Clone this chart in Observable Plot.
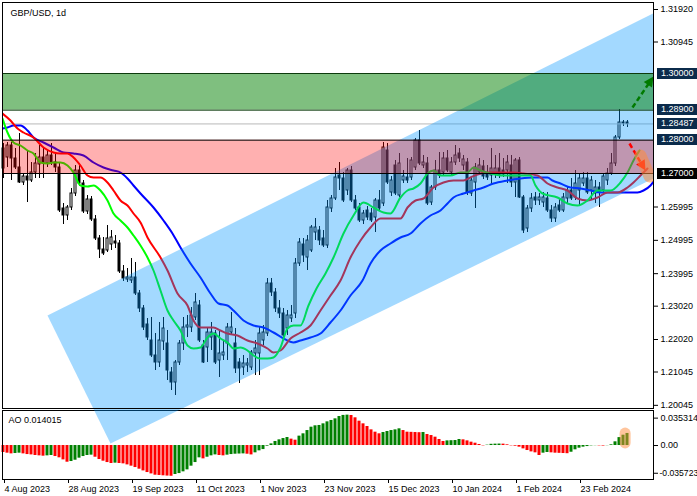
<!DOCTYPE html>
<html><head><meta charset="utf-8">
<script src="https://cdn.jsdelivr.net/npm/d3@7"></script>
<script src="https://cdn.jsdelivr.net/npm/@observablehq/plot@0.6"></script>
<style>
body{margin:0;background:#fff;}
#wrap{position:relative;width:697px;height:496px;overflow:hidden;font-family:"Liberation Sans",Arial,sans-serif;}
#wrap svg{position:absolute;left:0;top:0;}
.lvl{position:absolute;left:657px;width:40px;height:11px;color:#fff;font-size:9px;line-height:11px;padding-left:4px;box-sizing:border-box;font-family:"Liberation Sans",Arial,sans-serif;}
</style></head><body><div id="wrap"></div>
<script>
// ---------- data ----------
const title = "GBP/USD, 1d";
const open = [1.2775,1.2748,1.2784,1.2745,1.2718,1.2673,1.2691,1.2679,1.2703,1.2727,
1.2748,1.2730,1.2754,1.2733,1.2718,1.2595,1.2574,1.2598,1.2640,1.2709,
1.2670,1.2586,1.2622,1.2562,1.2505,1.2472,1.2469,1.2487,1.2496,1.2490,
1.2406,1.2382,1.2379,1.2388,1.2340,1.2295,1.2247,1.2199,1.2154,1.2133,
1.2196,1.2190,1.2103,1.2073,1.2133,1.2190,1.2238,1.2238,1.2268,1.2304,
1.2184,1.2178,1.2208,1.2220,1.2139,1.2154,1.2190,1.2223,1.2190,1.2133,
1.2118,1.2124,1.2118,1.2160,1.2160,1.2199,1.2220,1.2370,1.2343,1.2295,
1.2280,1.2235,1.2265,1.2280,1.2430,1.2487,1.2448,1.2469,1.2523,1.2529,
1.2505,1.2484,1.2595,1.2625,1.2694,1.2685,1.2649,1.2709,1.2619,1.2598,
1.2559,1.2589,1.2580,1.2568,1.2619,1.2610,1.2769,1.2643,1.2724,1.2634,
1.2679,1.2688,1.2688,1.2718,1.2799,1.2724,1.2730,1.2613,1.2658,1.2709,
1.2703,1.2745,1.2703,1.2733,1.2760,1.2724,1.2733,1.2640,1.2673,1.2703,
1.2721,1.2700,1.2694,1.2700,1.2715,1.2709,1.2709,1.2724,1.2673,1.2739,
1.2628,1.2535,1.2595,1.2628,1.2619,1.2613,1.2625,1.2589,1.2565,1.2604,
1.2589,1.2625,1.2649,1.2628,1.2649,1.2670,1.2685,1.2649,1.2640,1.2658,
1.2649,1.2679,1.2700,1.2730,1.2808,1.2850,1.2853];
const high = [1.2790,1.2793,1.2793,1.2775,1.2820,1.2700,1.2769,1.2733,1.2760,1.2784,
1.2778,1.2769,1.2790,1.2763,1.2730,1.2610,1.2604,1.2655,1.2724,1.2730,
1.2679,1.2634,1.2631,1.2574,1.2514,1.2508,1.2544,1.2529,1.2514,1.2499,
1.2424,1.2415,1.2445,1.2433,1.2349,1.2304,1.2265,1.2268,1.2220,1.2253,
1.2268,1.2229,1.2118,1.2139,1.2199,1.2268,1.2274,1.2298,1.2340,1.2319,
1.2199,1.2238,1.2253,1.2229,1.2229,1.2199,1.2250,1.2283,1.2235,1.2145,
1.2154,1.2145,1.2169,1.2199,1.2238,1.2244,1.2385,1.2385,1.2355,1.2319,
1.2295,1.2289,1.2304,1.2445,1.2505,1.2505,1.2514,1.2544,1.2565,1.2541,
1.2529,1.2619,1.2634,1.2715,1.2733,1.2703,1.2715,1.2721,1.2634,1.2610,
1.2589,1.2601,1.2595,1.2625,1.2649,1.2793,1.2790,1.2691,1.2739,1.2760,
1.2709,1.2745,1.2748,1.2805,1.2829,1.2754,1.2748,1.2664,1.2739,1.2763,
1.2763,1.2769,1.2748,1.2784,1.2775,1.2754,1.2745,1.2691,1.2730,1.2745,
1.2739,1.2724,1.2775,1.2754,1.2760,1.2745,1.2754,1.2754,1.2745,1.2748,
1.2634,1.2604,1.2640,1.2643,1.2640,1.2643,1.2643,1.2604,1.2610,1.2625,
1.2640,1.2658,1.2685,1.2709,1.2700,1.2703,1.2703,1.2691,1.2679,1.2673,
1.2697,1.2715,1.2760,1.2814,1.2892,1.2859,1.2859];
const low = [1.2685,1.2718,1.2679,1.2712,1.2670,1.2664,1.2613,1.2673,1.2685,1.2685,
1.2685,1.2718,1.2724,1.2703,1.2583,1.2547,1.2559,1.2589,1.2631,1.2661,
1.2580,1.2577,1.2556,1.2499,1.2445,1.2454,1.2463,1.2469,1.2475,1.2400,
1.2376,1.2373,1.2370,1.2334,1.2283,1.2229,1.2199,1.2148,1.2109,1.2118,
1.2169,1.2079,1.2049,1.2034,1.2124,1.2169,1.2208,1.2223,1.2259,1.2193,
1.2130,1.2133,1.2169,1.2127,1.2088,1.2139,1.2139,1.2214,1.2100,1.2070,
1.2094,1.2103,1.2109,1.2094,1.2094,1.2184,1.2211,1.2331,1.2283,1.2265,
1.2199,1.2214,1.2253,1.2265,1.2421,1.2433,1.2409,1.2463,1.2499,1.2484,
1.2478,1.2475,1.2583,1.2619,1.2649,1.2613,1.2634,1.2613,1.2589,1.2553,
1.2547,1.2559,1.2553,1.2523,1.2589,1.2601,1.2667,1.2631,1.2634,1.2628,
1.2670,1.2670,1.2679,1.2709,1.2724,1.2715,1.2604,1.2604,1.2649,1.2685,
1.2694,1.2703,1.2694,1.2724,1.2733,1.2709,1.2634,1.2631,1.2595,1.2694,
1.2682,1.2679,1.2664,1.2685,1.2685,1.2688,1.2670,1.2658,1.2628,1.2625,
1.2520,1.2523,1.2583,1.2604,1.2604,1.2598,1.2583,1.2553,1.2553,1.2583,
1.2583,1.2610,1.2619,1.2619,1.2604,1.2661,1.2637,1.2619,1.2610,1.2598,
1.2643,1.2664,1.2694,1.2721,1.2802,1.2841,1.2838];
const close = [1.2715,1.2784,1.2745,1.2718,1.2673,1.2691,1.2679,1.2703,1.2730,1.2748,
1.2730,1.2754,1.2733,1.2718,1.2589,1.2574,1.2598,1.2640,1.2709,1.2670,
1.2586,1.2622,1.2562,1.2505,1.2472,1.2460,1.2505,1.2508,1.2490,1.2406,
1.2385,1.2388,1.2388,1.2340,1.2295,1.2238,1.2208,1.2154,1.2133,1.2199,
1.2235,1.2109,1.2073,1.2133,1.2190,1.2238,1.2244,1.2274,1.2313,1.2199,
1.2133,1.2223,1.2223,1.2133,1.2160,1.2163,1.2238,1.2238,1.2115,1.2115,
1.2130,1.2130,1.2163,1.2175,1.2220,1.2223,1.2370,1.2343,1.2295,1.2280,
1.2214,1.2274,1.2274,1.2430,1.2493,1.2454,1.2499,1.2538,1.2538,1.2499,
1.2484,1.2598,1.2625,1.2688,1.2685,1.2619,1.2709,1.2619,1.2595,1.2559,
1.2580,1.2568,1.2559,1.2619,1.2595,1.2778,1.2673,1.2679,1.2640,1.2730,
1.2691,1.2679,1.2739,1.2799,1.2730,1.2733,1.2610,1.2658,1.2709,1.2694,
1.2745,1.2709,1.2733,1.2754,1.2745,1.2742,1.2643,1.2679,1.2718,1.2724,
1.2691,1.2688,1.2715,1.2715,1.2694,1.2697,1.2733,1.2673,1.2739,1.2628,
1.2529,1.2595,1.2625,1.2619,1.2628,1.2628,1.2589,1.2565,1.2598,1.2589,
1.2628,1.2649,1.2625,1.2670,1.2685,1.2685,1.2643,1.2679,1.2658,1.2643,
1.2691,1.2700,1.2730,1.2808,1.2853,1.2853,1.28487];

// Alligator lines: [bar index, price]
const lips = [[-0.25,1.2865],[1,1.2823],[2.5,1.2793],[4.25,1.2784],[6,1.2769],[7.5,1.2760],[9.25,1.2733],[11,1.2730],[12.5,1.2733],[14.25,1.2733],[16,1.2724],[17.5,1.2703],[19.25,1.2664],[21,1.2661],[22.5,1.2664],[24.25,1.2649],[26,1.2619],[27.5,1.2580],[29.25,1.2559],[31,1.2538],[32.5,1.2514],[34.25,1.2484],[36,1.2448],[37.5,1.2409],[39.25,1.2349],[41,1.2289],[42.5,1.2259],[44.25,1.2229],[46,1.2184],[47.5,1.2175],[49.25,1.2178],[51,1.2208],[52.5,1.2220],[54.25,1.2205],[56,1.2193],[57.5,1.2175],[59.25,1.2178],[61,1.2169],[62.5,1.2154],[64.25,1.2145],[66,1.2145],[67.5,1.2148],[69.25,1.2178],[71,1.2235],[72.5,1.2244],[74.25,1.2244],[76.25,1.2304],[78.25,1.2355],[80.5,1.2400],[82.5,1.2448],[85,1.2520],[87.5,1.2574],[90,1.2613],[92.5,1.2598],[95,1.2583],[96.75,1.2580],[99.25,1.2628],[101,1.2649],[102.5,1.2655],[104.25,1.2670],[106,1.2700],[107.5,1.2709],[109.25,1.2694],[111.75,1.2694],[114.25,1.2703],[116,1.2703],[117.5,1.2718],[119.25,1.2709],[121.75,1.2700],[124.25,1.2694],[131.75,1.2694],[133,1.2664],[134.75,1.2640],[138.5,1.2628],[141,1.2610],[143.5,1.2604],[146,1.2619],[148.5,1.2649],[151.75,1.2649],[154.25,1.2673],[156,1.2703],[157.5,1.2739],[159,1.2769]];
const teeth = [[-0.25,1.2880],[1.75,1.2859],[3.5,1.2835],[5,1.2823],[7.5,1.2808],[10,1.2778],[12.5,1.2763],[14.25,1.2760],[16,1.2760],[17.5,1.2748],[19.25,1.2724],[21,1.2694],[22.5,1.2688],[24.25,1.2688],[26,1.2673],[27.5,1.2649],[29.25,1.2619],[31,1.2604],[32.5,1.2580],[34.25,1.2553],[36,1.2508],[39.25,1.2448],[41,1.2409],[43.5,1.2340],[46,1.2304],[47.5,1.2259],[49.25,1.2238],[52.5,1.2238],[54.25,1.2229],[56,1.2220],[58.5,1.2214],[61,1.2199],[63.5,1.2190],[66,1.2175],[67.5,1.2163],[69.25,1.2169],[71.75,1.2205],[74.25,1.2223],[76.75,1.2244],[79.25,1.2289],[81.75,1.2334],[84.25,1.2379],[86.75,1.2448],[89.25,1.2499],[91.75,1.2538],[94.25,1.2565],[99.25,1.2565],[101,1.2598],[103,1.2619],[105,1.2625],[107.5,1.2658],[110,1.2673],[112.5,1.2679],[115,1.2679],[116.75,1.2688],[118.5,1.2697],[121,1.2703],[124.25,1.2703],[127.5,1.2703],[130,1.2700],[133.5,1.2694],[136,1.2670],[138.5,1.2658],[141,1.2649],[143.5,1.2625],[146,1.2619],[148.5,1.2628],[151,1.2643],[153.5,1.2643],[156,1.2658],[157.5,1.2673],[159.25,1.2694],[161,1.2715]];
const jaw = [[-0.25,1.2835],[1,1.2838],[2.5,1.2844],[4.25,1.2844],[6,1.2829],[7.5,1.2808],[10,1.2793],[12.5,1.2778],[15,1.2763],[17.5,1.2760],[20,1.2754],[22.5,1.2733],[25,1.2718],[27.5,1.2709],[29.25,1.2703],[31,1.2685],[32.5,1.2664],[34.25,1.2640],[37.5,1.2598],[40,1.2559],[42.25,1.2520],[44.25,1.2478],[46.75,1.2430],[49.25,1.2388],[51.75,1.2340],[53.75,1.2310],[56,1.2304],[57.5,1.2289],[60,1.2259],[62.5,1.2244],[65,1.2238],[67.5,1.2223],[70,1.2205],[72.5,1.2193],[74.25,1.2199],[76.75,1.2208],[79.25,1.2220],[81.75,1.2253],[84.25,1.2289],[86.75,1.2334],[89.75,1.2379],[91.75,1.2430],[94.25,1.2469],[96.75,1.2490],[99.25,1.2508],[101.75,1.2520],[104.25,1.2550],[106.75,1.2574],[109.25,1.2589],[111,1.2610],[112.5,1.2628],[115,1.2640],[117.5,1.2649],[120,1.2658],[122.5,1.2670],[126,1.2679],[129.25,1.2685],[132.5,1.2688],[136,1.2688],[137.25,1.2679],[139.25,1.2670],[141.75,1.2658],[144.25,1.2655],[146.75,1.2649],[149.25,1.2643],[156,1.2643],[158.5,1.2643],[160,1.2649],[161.75,1.2664],[163,1.2685]];

// Awesome Oscillator per bar
const aoValues = [-0.0081,-0.0089,-0.0097,-0.0093,-0.0089,-0.0097,-0.0105,-0.0109,-0.0116,-0.0120,
-0.0124,-0.0120,-0.0116,-0.0128,-0.0143,-0.0167,-0.0194,-0.0186,-0.0171,-0.0147,
-0.0128,-0.0116,-0.0112,-0.0136,-0.0163,-0.0182,-0.0198,-0.0209,-0.0205,-0.0209,
-0.0213,-0.0225,-0.0240,-0.0256,-0.0275,-0.0295,-0.0314,-0.0330,-0.0345,-0.0348,
-0.0352,-0.0355,-0.035723,-0.0337,-0.0326,-0.0306,-0.0283,-0.0240,-0.0198,-0.0143,
-0.0155,-0.0136,-0.0120,-0.0109,-0.0116,-0.0120,-0.0112,-0.0105,-0.0101,-0.0099,
-0.0097,-0.0101,-0.0109,-0.0085,-0.0062,-0.0047,-0.0008,0.0019,0.0047,0.0066,
0.0081,0.0093,0.0074,0.0062,0.0109,0.0136,0.0174,0.0213,0.0229,0.0233,
0.0252,0.0275,0.0291,0.0310,0.0337,0.0350,0.035314,0.0349,0.0322,0.0283,
0.0252,0.0221,0.0182,0.0155,0.0136,0.0151,0.0163,0.0174,0.0182,0.0194,
0.0174,0.0155,0.0153,0.0151,0.0149,0.0151,0.0128,0.0116,0.0097,0.0070,
0.0047,0.0054,0.0056,0.0058,0.0070,0.0066,0.0054,0.0039,0.0027,0.0012,
-0.0004,0.0004,0.0014,0.0016,0.0017,0.0016,0.0008,-0.0004,-0.0008,-0.0019,
-0.0039,-0.0058,-0.0074,-0.0085,-0.0116,-0.0089,-0.0081,-0.0085,-0.0089,-0.0091,
-0.0093,-0.0095,-0.0078,-0.0050,-0.0031,-0.0019,-0.0012,-0.0004,-0.0002,-0.0004,
-0.0006,-0.0002,0.0008,0.0043,0.0092,0.0120,0.014015];

const dateTickBars = [0,16,32,48,64,80,96,112,128,144];
const dateLabels = ["4 Aug 2023","28 Aug 2023","19 Sep 2023","11 Oct 2023","1 Nov 2023","23 Nov 2023","15 Dec 2023","10 Jan 2024","1 Feb 2024","23 Feb 2024"];
const priceTicks = [1.31920,1.30945,1.25995,1.24995,1.23995,1.23020,1.22020,1.21045,1.20045];
const aoTicks = [0.035314, 0, -0.035723];

// annotations
const channel = [[11,1.2274],[26.75,1.1890],[162.5,1.2685],[162.5,1.3181]];
const resistanceZone = [1.289, 1.300];
const supportZone = [1.270, 1.280];
const arrowUp = [157.25,1.2898,162.5,1.2991];
const arrowDown = [156.5,1.2790,160.5,1.2709];
const highlight = [159.25,1.2754,161.5,1.2691];
const aoHighlight = [155.4,0.0030,155.4,0.0145];

// ---------- layout ----------
const W = 697, H = 496;
const xDomain = [-0.25, 162.5];
const yDomain = [1.1995, 1.3213];
const FONT = "'Liberation Sans', Arial, sans-serif";
const candles = open.map((o,i)=>({i, o, h:high[i], l:low[i], c:close[i]}));
const aoData = aoValues.map((v,i)=>({i, v, up: i>0 && v>aoValues[i-1]}));
const lastPrice = close[close.length-1];

// arrow head triangles (computed in pixel-equivalent space)
const kx = (653-2)/(xDomain[1]-xDomain[0]);
const ky = (408-2)/(yDomain[1]-yDomain[0]);
function head([x1,y1,x2,y2], L=10, w=5){
  const dx=(x2-x1)*kx, dy=(y2-y1)*ky, len=Math.hypot(dx,dy), ux=dx/len, uy=dy/len;
  const bx=-ux*L, by=-uy*L, nx=-uy*w, ny=ux*w;
  const pt=(px,py)=>[x2+px/kx, y2+py/ky];
  return {tri:[pt(0,0),pt(bx+nx,by+ny),pt(bx-nx,by-ny)], base:pt(bx*0.8,by*0.8)};
}
const hUp = head(arrowUp), hDown = head(arrowDown);

const main = Plot.plot({
  width:W, height:H, marginLeft:2, marginRight:44, marginTop:2, marginBottom:88,
  style:{background:"transparent", overflow:"visible", fontFamily:FONT, fontSize:"9px", color:"#000"},
  x:{domain:xDomain, axis:null, label:null},
  y:{domain:yDomain, axis:null, label:null},
  marks:[
    Plot.ruleX(candles,{x:"i", y1:"l", y2:"h", stroke:"#000", strokeWidth:1}),
    Plot.rect(candles,{x1:d=>d.i-0.25, x2:d=>d.i+0.25, y1:"o", y2:"c", fill:d=>d.c>=d.o?"#fff":"#000", stroke:"#000", strokeWidth:1}),
    Plot.ruleY([lastPrice],{stroke:"#b8b8b8", strokeWidth:1}),
    Plot.line(jaw,{x:d=>d[0], y:d=>d[1], stroke:"#0000ff", strokeWidth:2, curve:"monotone-x", clip:"frame"}),
    Plot.line(teeth,{x:d=>d[0], y:d=>d[1], stroke:"#ff0000", strokeWidth:2, curve:"monotone-x", clip:"frame"}),
    Plot.line(lips,{x:d=>d[0], y:d=>d[1], stroke:"#00ff00", strokeWidth:2, curve:"monotone-x", clip:"frame"}),
    Plot.line(channel,{x:d=>d[0], y:d=>d[1], fill:"#0096ff", fillOpacity:0.36, stroke:"none"}),
    Plot.rect([resistanceZone],{y1:d=>d[0], y2:d=>d[1], fill:"#008000", fillOpacity:0.5}),
    Plot.rect([supportZone],{y1:d=>d[0], y2:d=>d[1], fill:"#ff0000", fillOpacity:0.31}),
    Plot.ruleY(resistanceZone,{stroke:"#0d3a0d", strokeWidth:1}),
    Plot.ruleY(supportZone,{stroke:"#000", strokeWidth:1}),
    Plot.link([[arrowUp[0],arrowUp[1],...hUp.base]],{x1:d=>d[0],y1:d=>d[1],x2:d=>d[2],y2:d=>d[3], stroke:"#007a00", strokeWidth:2.5, strokeDasharray:"5,3"}),
    Plot.line(hUp.tri,{x:d=>d[0], y:d=>d[1], fill:"#007a00", stroke:"none"}),
    Plot.link([[arrowDown[0],arrowDown[1],...hDown.base]],{x1:d=>d[0],y1:d=>d[1],x2:d=>d[2],y2:d=>d[3], stroke:"#ff0000", strokeWidth:2.5, strokeDasharray:"5,3"}),
    Plot.line(hDown.tri,{x:d=>d[0], y:d=>d[1], fill:"#ff0000", stroke:"none"}),
    Plot.link([highlight],{x1:d=>d[0],y1:d=>d[1],x2:d=>d[2],y2:d=>d[3], stroke:"rgb(255,140,60)", strokeOpacity:0.55, strokeWidth:12, strokeLinecap:"round", clip:"frame"}),
    Plot.frame({stroke:"#000"}),
    Plot.axisY(priceTicks,{anchor:"right", label:null, tickSize:4, tickPadding:3, tickFormat:d=>d.toFixed(5), fontSize:9}),
    Plot.text([title],{frameAnchor:"top-left", dx:8, dy:7, lineAnchor:"top", textAnchor:"start", fontSize:9, fill:"#000"})
  ]
});

const ao = Plot.plot({
  width:W, height:H, marginLeft:2, marginRight:44, marginTop:410, marginBottom:17,
  style:{background:"#fff", fontFamily:FONT, fontSize:"9px", color:"#000"},
  x:{domain:xDomain, axis:null, label:null},
  y:{domain:[-0.0395, 0.0407], axis:null, label:null},
  marks:[
    Plot.rect(aoData,{x1:d=>d.i-0.375, x2:d=>d.i+0.375, y1:0, y2:"v", fill:d=>d.up?"#008000":"#ff0000"}),
    Plot.link([aoHighlight],{x1:d=>d[0],y1:d=>d[1],x2:d=>d[2],y2:d=>d[3], stroke:"rgb(255,140,60)", strokeOpacity:0.5, strokeWidth:11, strokeLinecap:"round"}),
    Plot.frame({stroke:"#000"}),
    Plot.axisY([aoTicks[0]],{anchor:"right", label:null, tickSize:4, tickPadding:3, dy:3, tickFormat:d=>String(d), fontSize:9}),
    Plot.axisY([aoTicks[1]],{anchor:"right", label:null, tickSize:4, tickPadding:3, tickFormat:()=>"0.00", fontSize:9}),
    Plot.axisY([aoTicks[2]],{anchor:"right", label:null, tickSize:4, tickPadding:2, dy:-3, tickFormat:d=>String(d), fontSize:8.6}),
    Plot.axisX(dateTickBars,{anchor:"bottom", label:null, tickSize:4, tickPadding:2, textAnchor:"start", dx:1, tickFormat:d=>dateLabels[dateTickBars.indexOf(d)], fontSize:9}),
    Plot.text(["AO " + aoValues[aoValues.length-1]],{frameAnchor:"top-left", dx:6, dy:6, lineAnchor:"top", textAnchor:"start", fontSize:9, fill:"#000"})
  ]
});

const wrap = document.getElementById("wrap");
wrap.appendChild(ao);
wrap.appendChild(main);

// level value boxes on the price scale
const levels = [resistanceZone[1], resistanceZone[0], lastPrice, supportZone[1], supportZone[0]];
const ys = main.scale("y");
for (const v of levels) {
  const d = document.createElement("div");
  d.className = "lvl";
  d.style.top = (ys.apply(v) - 5.5) + "px";
  d.style.background = v === supportZone[0] ? "#000" : "#0b2b4b";
  d.textContent = v.toFixed(5);
  wrap.appendChild(d);
}
</script></body></html>
